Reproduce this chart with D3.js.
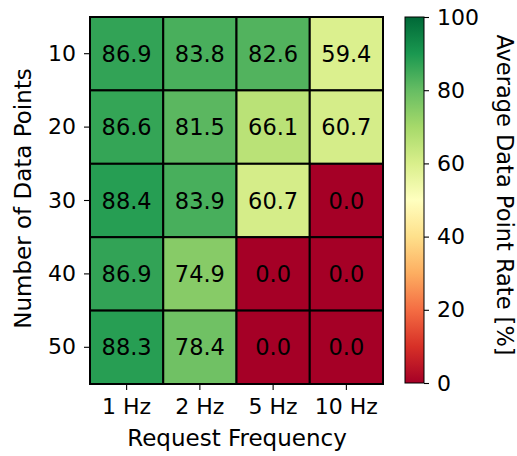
<!DOCTYPE html>
<html>
<head>
<meta charset="utf-8">
<script src="https://cdn.jsdelivr.net/npm/d3@7"></script>
<style>
  html, body { margin: 0; padding: 0; background: #fff; }
  svg { display: block; }
  text { font-family: "DejaVu Sans", sans-serif; fill: #000; }
</style>
</head>
<body>
<svg id="chart" width="517" height="456"></svg>
<script>
// Request frequencies (columns) and number of data points (rows)
const frequencies = ["1 Hz", "2 Hz", "5 Hz", "10 Hz"];
const dataPoints = ["10", "20", "30", "40", "50"];

// Average data point rate [%], one array per row
const rate10 = [86.9, 83.8, 82.6, 59.4];
const rate20 = [86.6, 81.5, 66.1, 60.7];
const rate30 = [88.4, 83.9, 60.7, 0.0];
const rate40 = [86.9, 74.9, 0.0, 0.0];
const rate50 = [88.3, 78.4, 0.0, 0.0];
const rates = [rate10, rate20, rate30, rate40, rate50];

const colorbarTicks = [0, 20, 40, 60, 80, 100];

// RdYlGn anchor colours, linearly interpolated
const rdylgn = ["#a50026", "#d73027", "#f46d43", "#fdae61", "#fee08b", "#ffffbf",
                "#d9ef8b", "#a6d96a", "#66bd63", "#1a9850", "#006837"];

const svg = d3.select("#chart");
const fontSize = 22;
const titleSize = 23;

const plotLeft = 90, plotTop = 17, plotRight = 383, plotBottom = 384;

const x = d3.scaleBand().domain(frequencies).range([plotLeft, plotRight]);
const y = d3.scaleBand().domain(dataPoints).range([plotTop, plotBottom]);
const color = d3.scaleLinear()
  .domain(d3.range(rdylgn.length).map(i => i * 100 / (rdylgn.length - 1)))
  .range(rdylgn)
  .interpolate(d3.interpolateRgb)
  .clamp(true);

const cells = [];
rates.forEach((row, r) => row.forEach((v, c) => cells.push({ row: dataPoints[r], col: frequencies[c], v })));

// Heatmap cells
svg.append("g").selectAll("rect").data(cells).join("rect")
  .attr("x", d => x(d.col))
  .attr("y", d => y(d.row))
  .attr("width", x.bandwidth())
  .attr("height", y.bandwidth())
  .attr("fill", d => color(d.v))
  .attr("stroke", "#000")
  .attr("stroke-width", 2);

// Cell annotations
svg.append("g").selectAll("text").data(cells).join("text")
  .attr("x", d => x(d.col) + x.bandwidth() / 2)
  .attr("y", d => y(d.row) + y.bandwidth() / 2)
  .attr("text-anchor", "middle")
  .attr("dominant-baseline", "central")
  .style("font-size", "22.5px")
  .text(d => d.v.toFixed(1));

// Axes
function styleAxis(g) {
  g.select(".domain").remove();
  g.selectAll(".tick line").attr("stroke", "#000").attr("stroke-width", 1.1);
  g.selectAll(".tick text").style("font-size", fontSize + "px").style("font-family", "DejaVu Sans, sans-serif");
}

svg.append("g")
  .attr("transform", `translate(0,${plotBottom + 1})`)
  .call(d3.axisBottom(x).tickSize(5).tickPadding(8))
  .call(styleAxis);

svg.append("g")
  .attr("transform", `translate(${plotLeft - 1},0)`)
  .call(d3.axisLeft(y).tickSize(5).tickPadding(8))
  .call(styleAxis);

// Axis titles
svg.append("text")
  .attr("x", 237)
  .attr("y", 446)
  .attr("text-anchor", "middle")
  .style("font-size", titleSize + "px")
  .text("Request Frequency");

svg.append("text")
  .attr("transform", "translate(30.5,198.5) rotate(-90)")
  .attr("text-anchor", "middle")
  .style("font-size", titleSize + "px")
  .text("Number of Data Points");

// Colorbar
const cbLeft = 405, cbWidth = 19;
const cbScale = d3.scaleLinear().domain([0, 100]).range([plotBottom - 1, plotTop]);

const defs = svg.append("defs");
const grad = defs.append("linearGradient")
  .attr("id", "cbGrad")
  .attr("x1", 0).attr("y1", 1).attr("x2", 0).attr("y2", 0);
grad.selectAll("stop").data(rdylgn).join("stop")
  .attr("offset", (d, i) => i / (rdylgn.length - 1))
  .attr("stop-color", d => d);

svg.append("rect")
  .attr("x", cbLeft)
  .attr("y", cbScale(100))
  .attr("width", cbWidth)
  .attr("height", cbScale(0) - cbScale(100))
  .attr("fill", "url(#cbGrad)")
  .attr("stroke", "#000")
  .attr("stroke-width", 1);

svg.append("g")
  .attr("transform", `translate(${cbLeft + cbWidth},0)`)
  .call(d3.axisRight(cbScale).tickValues(colorbarTicks).tickSize(5).tickPadding(8))
  .call(styleAxis);

svg.append("text")
  .attr("transform", "translate(497,195) rotate(90)")
  .attr("text-anchor", "middle")
  .style("font-size", "22.5px")
  .text("Average Data Point Rate [%]");
</script>
</body>
</html>
